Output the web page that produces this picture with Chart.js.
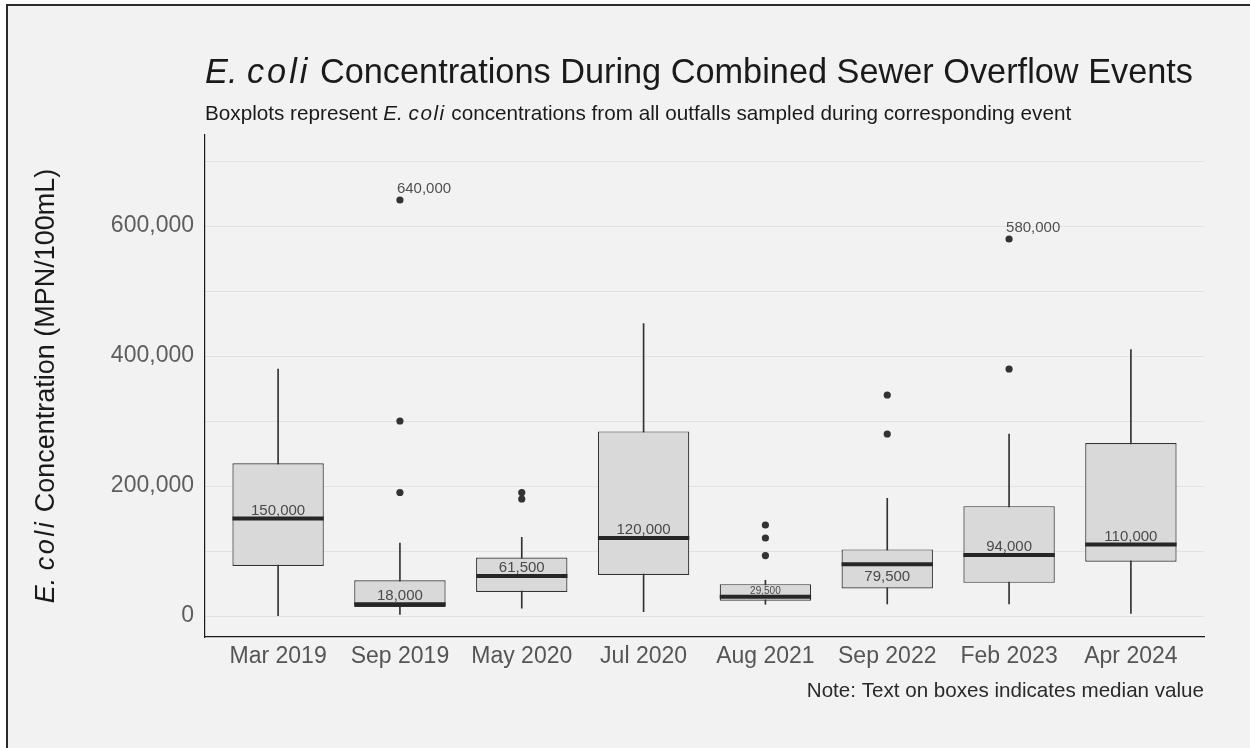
<!DOCTYPE html>
<html>
<head>
<meta charset="utf-8">
<script src="https://cdn.jsdelivr.net/npm/chart.js@4/dist/chart.umd.min.js"></script>
<style>
  html, body { margin: 0; padding: 0; background: #ffffff; }
  #wrap { width: 1250px; height: 748px; }
</style>
</head>
<body>
<div id="wrap"><canvas id="c" width="1250" height="748"></canvas></div>
<script>
// Sampling events (one box per event)
const categories = ['Mar 2019', 'Sep 2019', 'May 2020', 'Jul 2020', 'Aug 2021', 'Sep 2022', 'Feb 2023', 'Apr 2024'];

// Box-and-whisker summary, MPN/100mL
const lowerWhisker  = [500,    2600,   12000,  6700,   18000,  18500,  18500,  4000];
const lowerQuartile = [77000,  14000,  37000,  63000,  23500,  42500,  51000,  83500];
const medianValues  = [150000, 18000,  61500,  120000, 29500,  79500,  94000,  110000];
const upperQuartile = [235000, 55000,  90000,  284000, 49000,  102500, 169000, 266000];
const upperWhisker  = [380000, 112000, 121000, 450000, 55000,  181000, 280000, 410000];

// Outlying samples
const outlierEvents = ['Sep 2019', 'Sep 2019', 'Sep 2019', 'May 2020', 'May 2020', 'Aug 2021', 'Aug 2021', 'Aug 2021', 'Sep 2022', 'Sep 2022', 'Feb 2023', 'Feb 2023'];
const outlierValues = [640000, 300000, 190000, 190000, 180000, 140000, 120000, 93000, 340000, 280000, 580000, 380000];

// Grid lines and the subset of them that carry a label
const yGridValues = [0, 100000, 200000, 300000, 400000, 500000, 600000, 700000];
const yTickValues = [0, 200000, 400000, 600000];

// Outliers above this are annotated with their value
const outlierLabelThreshold = 500000;
// Median labels placed under the line / in small type
const medianLabelBelow = ['Sep 2022'];
const medianLabelSmall = ['Aug 2021'];

const FONT = "'Liberation Sans', Arial, Helvetica, sans-serif";
Chart.defaults.font.family = FONT;

const fmt = v => Number(v).toLocaleString('en-US');
const halfBoxWidth = chart => {
  const s = chart.scales.x;
  return (s.getPixelForValue(2) - s.getPixelForValue(1)) * 0.75 / 2;
};

// draw a run of differently styled text pieces starting at x
function drawRuns(ctx, runs, x, y) {
  let cx = x;
  for (const r of runs) {
    ctx.font = r.font;
    ctx.letterSpacing = r.spacing || '0px';
    ctx.fillText(r.text, cx, y);
    cx += ctx.measureText(r.text).width;
  }
  ctx.letterSpacing = '0px';
  return cx - x;
}
function runsWidth(ctx, runs) {
  let w = 0;
  for (const r of runs) {
    ctx.font = r.font;
    ctx.letterSpacing = r.spacing || '0px';
    w += ctx.measureText(r.text).width;
  }
  ctx.letterSpacing = '0px';
  return w;
}

const framePlugin = {
  id: 'frame',
  beforeDraw(chart) {
    const { ctx, width, height } = chart;
    ctx.save();
    ctx.fillStyle = '#ffffff';
    ctx.fillRect(0, 0, width, height);
    ctx.fillStyle = '#f2f2f2';
    ctx.fillRect(7, 5, width - 7, height - 5);
    ctx.strokeStyle = '#2a2a2a';
    ctx.lineWidth = 2;
    ctx.beginPath();
    ctx.moveTo(7, height);
    ctx.lineTo(7, 5);
    ctx.lineTo(width, 5);
    ctx.stroke();
    ctx.restore();
  }
};

const labelPlugin = {
  id: 'valueLabels',
  afterDatasetsDraw(chart) {
    const { ctx, scales: { x, y } } = chart;
    ctx.save();
    ctx.textAlign = 'center';
    ctx.textBaseline = 'alphabetic';
    ctx.fillStyle = '#4a4a4a';
    categories.forEach((cat, i) => {
      const px = x.getPixelForValue(i + 1);
      const py = y.getPixelForValue(medianValues[i]);
      const small = medianLabelSmall.includes(cat);
      ctx.font = (small ? '10px ' : '15px ') + FONT;
      const below = medianLabelBelow.includes(cat);
      ctx.fillText(fmt(medianValues[i]), px, below ? py + 17 : py - (small ? 3 : 4));
    });
    ctx.textAlign = 'left';
    ctx.font = '15px ' + FONT;
    ctx.fillStyle = '#505050';
    outlierValues.forEach((v, k) => {
      if (v < outlierLabelThreshold) return;
      const px = x.getPixelForValue(categories.indexOf(outlierEvents[k]) + 1);
      const py = y.getPixelForValue(v);
      ctx.fillText(fmt(v), px - 3, py - 7);
    });
    ctx.restore();
  }
};

const headingPlugin = {
  id: 'headings',
  afterDraw(chart) {
    const { ctx, chartArea } = chart;
    ctx.save();
    ctx.textBaseline = 'alphabetic';
    ctx.textAlign = 'left';
    ctx.fillStyle = '#1a1a1a';

    // title
    drawRuns(ctx, [
      { text: 'E. ', font: 'italic 34.3px ' + FONT },
      { text: 'coli', font: 'italic 34.3px ' + FONT, spacing: '3px' },
      { text: ' Concentrations During Combined Sewer Overflow Events', font: '34.3px ' + FONT }
    ], chartArea.left, 83);

    // subtitle
    drawRuns(ctx, [
      { text: 'Boxplots represent ', font: '20.7px ' + FONT },
      { text: 'E. ', font: 'italic 20.7px ' + FONT },
      { text: 'coli', font: 'italic 20.7px ' + FONT, spacing: '1.5px' },
      { text: ' concentrations from all outfalls sampled during corresponding event', font: '20.7px ' + FONT }
    ], chartArea.left, 120);

    // y-axis title
    const yRuns = [
      { text: 'E. ', font: 'italic 27px ' + FONT },
      { text: 'coli', font: 'italic 27px ' + FONT, spacing: '2.5px' },
      { text: ' Concentration (MPN/100mL)', font: '27px ' + FONT }
    ];
    const w = runsWidth(ctx, yRuns);
    ctx.translate(54, (chartArea.top + chartArea.bottom) / 2);
    ctx.rotate(-Math.PI / 2);
    drawRuns(ctx, yRuns, -w / 2, 0);
    ctx.setTransform(1, 0, 0, 1, 0, 0);

    // caption
    ctx.textAlign = 'right';
    ctx.font = '20.6px ' + FONT;
    ctx.fillStyle = '#2a2a2a';
    ctx.fillText('Note: Text on boxes indicates median value', chartArea.right, 697);
    ctx.restore();
  }
};

new Chart(document.getElementById('c'), {
  type: 'bar',
  data: {
    datasets: [
      {
        label: 'whisker',
        type: 'bar',
        data: categories.map((c, i) => ({ x: i + 1, y: [lowerWhisker[i], upperWhisker[i]] })),
        backgroundColor: '#333333',
        barThickness: 1,
        grouped: false,
        order: 4
      },
      {
        label: 'box',
        type: 'bar',
        data: categories.map((c, i) => ({ x: i + 1, y: [lowerQuartile[i], upperQuartile[i]] })),
        backgroundColor: '#d9d9d9',
        borderColor: '#333333',
        borderWidth: 1.2,
        borderSkipped: false,
        barPercentage: 0.75,
        categoryPercentage: 1,
        grouped: false,
        order: 3
      },
      {
        label: 'median',
        type: 'line',
        showLine: false,
        data: categories.map((c, i) => ({ x: i + 1, y: medianValues[i] })),
        pointStyle: 'line',
        pointRadius: ctx => halfBoxWidth(ctx.chart),
        pointHoverRadius: ctx => halfBoxWidth(ctx.chart),
        pointBorderWidth: 4,
        pointBorderColor: '#262626',
        order: 2
      },
      {
        label: 'outlier',
        type: 'line',
        showLine: false,
        data: outlierValues.map((v, k) => ({ x: categories.indexOf(outlierEvents[k]) + 1, y: v })),
        pointStyle: 'circle',
        pointRadius: 3.6,
        pointHoverRadius: 3.6,
        pointBackgroundColor: '#333333',
        pointBorderWidth: 0,
        order: 1
      }
    ]
  },
  options: {
    responsive: false,
    animation: false,
    events: [],
    layout: { padding: { left: 0, right: 46, top: 135, bottom: 0 } },
    plugins: {
      legend: { display: false },
      tooltip: { enabled: false }
    },
    scales: {
      x: {
        type: 'linear',
        min: 0.4,
        max: 8.6,
        offset: false,
        afterBuildTicks: s => { s.ticks = categories.map((c, i) => ({ value: i + 1 })); },
        afterFit: s => { s.height = 111; },
        grid: { display: false, drawTicks: false, offset: false },
        border: { display: true, color: '#1a1a1a', width: 1.2 },
        ticks: {
          autoSkip: false,
          maxRotation: 0,
          minRotation: 0,
          padding: 6,
          color: '#555555',
          font: { size: 23 },
          callback: v => categories[Math.round(v) - 1] ?? ''
        }
      },
      y: {
        type: 'linear',
        min: -32300,
        max: 740000,
        afterBuildTicks: s => { s.ticks = yGridValues.map(v => ({ value: v })); },
        afterFit: s => { s.width = 205; },
        grid: { color: '#e2e2e2', lineWidth: 1, drawTicks: false },
        border: { display: true, color: '#1a1a1a', width: 1.2 },
        ticks: {
          padding: 11,
          color: '#5e5e5e',
          font: { size: 23 },
          callback: v => yTickValues.includes(v) ? fmt(v) : ''
        }
      }
    }
  },
  plugins: [framePlugin, labelPlugin, headingPlugin]
});
</script>
</body>
</html>
